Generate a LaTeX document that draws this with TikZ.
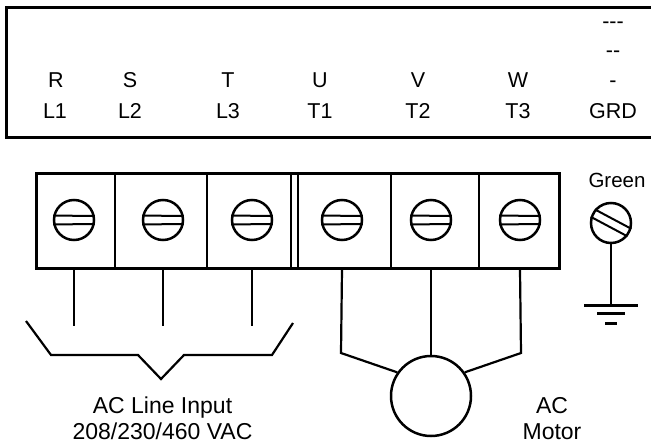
\documentclass[tikz,border=0pt]{standalone}
\usepackage{fontspec}
\setmainfont{Liberation Sans}
\tikzstyle{lbl} = [anchor=base, inner sep=0pt, font=\fontsize{21.5}{26}\selectfont]
\tikzstyle{note} = [anchor=base, inner sep=0pt, font=\fontsize{23}{28}\selectfont]
\tikzstyle{screw} = [draw, circle, line width=2.5pt, minimum size=40pt, inner sep=0pt]
\tikzstyle{slot} = [line width=2pt]
\tikzstyle{wire} = [line width=2.2pt]
\tikzstyle{divider} = [line width=2.5pt]
\tikzstyle{gbar} = [line width=3pt]

\begin{document}
\begin{tikzpicture}[x=1pt, y=-1pt]
        \clip (0,0) rectangle (651,444);
        \draw [line width=3pt] (6,8) rectangle (700,137);

        \node [lbl] (nr) at (56, 88) {R};
        \node [lbl] (ns) at (130, 88) {S};
        \node [lbl] (nt) at (228, 88) {T};
        \node [lbl] (nu) at (320, 88) {U};
        \node [lbl] (nv) at (418, 88) {V};
        \node [lbl] (nw) at (518, 88) {W};
        \node [lbl] (ng) at (613, 88) {-};
        \node [lbl] (ng2) at (613, 58) {-{}-};
        \node [lbl] (ng3) at (613, 29) {-{}-{}-};

        \node [lbl] (l1) at (55, 118) {L1};
        \node [lbl] (l2) at (130, 118) {L2};
        \node [lbl] (l3) at (228, 118) {L3};
        \node [lbl] (t1) at (320, 118) {T1};
        \node [lbl] (t2) at (418, 118) {T2};
        \node [lbl] (t3) at (518, 118) {T3};
        \node [lbl] (grd) at (613, 118) {GRD};

        \node [draw, line width=3pt, minimum width=523pt, minimum height=95pt, inner sep=0pt] (blk) at (297.5, 220.5) {};
        \foreach \x in {115,207,291,298,391,479} \draw [divider] (\x,173) -- (\x,268);

        \foreach \i/\x in {0/74,1/163,2/252,3/342,4/431,5/520} {
            \node [screw] (s\i) at (\x, 220) {};
            \draw [slot] (s\i.168.5) -- (s\i.11.5); \draw [slot] (s\i.-168.5) -- (s\i.-11.5);
        }

        \node [lbl, font=\fontsize{20.5}{24}\selectfont] (grn) at (617, 187) {Green};
        \node [screw] (g) at (611, 223) {};
        \draw [slot] (g.-16.5) -- (g.140.5); \draw [slot] (g.-39.5) -- (g.163.5);
        \coordinate (gnd) at (611, 305);
        \draw [wire] (g.south) -- (gnd);
        \draw [gbar] (gnd) ++(-27,0) -- ++(54,0);
        \draw [gbar] (gnd) ++(-14,8) -- ++(28,0);
        \draw [gbar] (gnd) ++(-6,18) -- ++(12,0);

        \foreach \i in {0,1,2} \draw [wire] (s\i |- blk.south) -- ++(0,56);
        \coordinate (tip) at (161, 379);
        \draw [wire] (26,321) -- (51,355) -- (138,355) -- (tip) -- (184,355) -- (272,355) -- (293,323);
        \node [note] (acin) at (162.5, 413) {AC Line Input};
        \node [note] (volt) at (162.5, 439) {208/230/460 VAC};

        \node [draw, circle, line width=2.5pt, minimum size=80pt] (mot) at (431, 396) {};
        \coordinate (kl) at (341, 353); \coordinate (kr) at (521, 353);
        \draw [wire] (s3 |- blk.south) -- (kl) -- (mot.145);
        \draw [wire] (s4 |- blk.south) -- (mot.north);
        \draw [wire] (s5 |- blk.south) -- (kr) -- (mot.35);
        \node [note] (ac) at (552, 413) {AC};
        \node [note] (motr) at (552, 439) {Motor};
    \end{tikzpicture}
\end{document}
